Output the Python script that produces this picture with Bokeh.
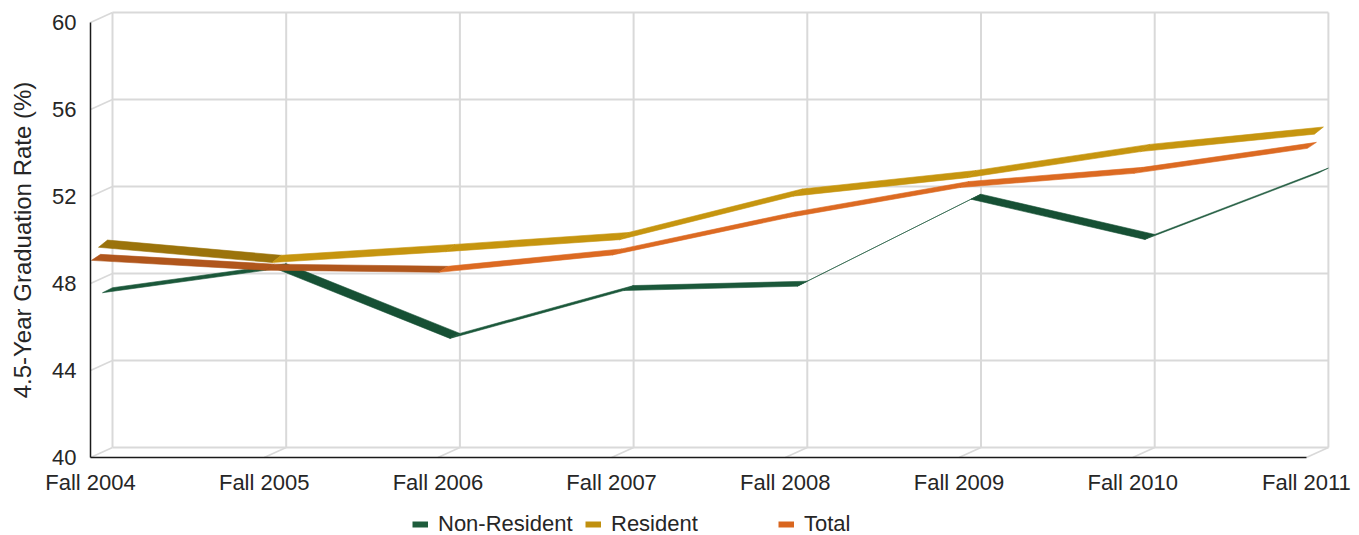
from bokeh.plotting import figure
from bokeh.models import Range1d, FixedTicker, Legend, LegendItem, ColumnDataSource
from bokeh.embed import file_html
from bokeh.resources import INLINE

# ---------------- data ----------------
categories = ["Fall 2004", "Fall 2005", "Fall 2006", "Fall 2007",
              "Fall 2008", "Fall 2009", "Fall 2010", "Fall 2011"]
non_resident = [47.3, 48.4, 45.2, 47.4, 47.6, 51.6, 49.75, 52.8]
resident = [49.5, 48.8, 49.3, 49.85, 51.85, 52.7, 53.9, 54.7]
total = [49.05, 48.6, 48.5, 49.3, 51.0, 52.4, 53.05, 54.2]
y_ticks = [40, 44, 48, 52, 56, 60]
series_names = ["Non-Resident", "Resident", "Total"]

# ---------------- style / geometry ----------------
FONT = "Liberation Sans"
TEXT = "#262626"
GRID = "#d9d9d9"
W, H = 1359, 535
PXX = 173.7          # pixels per category step
PXY = 21.75          # pixels per value unit
LEFT, BOTTOM = 90, 457   # pixel position of the front corner (x=0, y=40)
WALL_DX, WALL_DY = 22 / PXX, 10 / PXY   # depth of the back wall
# series ribbon depth: (front dx px, front dy px, back dx px, back dy px)
depth = {
    "Non-Resident": (12, 6.0, 22, 11.0),
    "Resident": (8, 3.6, 17, 10.8),
    "Total": (1, 0.3, 10, 6.3),
}
# (legend colour, colour when falling, colour when rising)
colours = {
    "Non-Resident": ("#1e5c3c", "#165034", "#1b583a"),
    "Resident": ("#c0900f", "#9b730b", "#c6950f"),
    "Total": ("#d9661f", "#b0561c", "#dc6a22"),
}
values = {"Non-Resident": non_resident, "Resident": resident, "Total": total}

n = len(categories)
p = figure(width=W, height=H, output_backend="svg", toolbar_location=None, title=None,
           x_range=Range1d(-LEFT / PXX, (W - LEFT) / PXX),
           y_range=Range1d(40 - (H - BOTTOM) / PXY, 40 + BOTTOM / PXY),
           min_border_left=0, min_border_right=0, min_border_top=0,
           min_border_bottom=0)
p.outline_line_color = None
p.grid.visible = False
p.background_fill_color = "white"
p.border_fill_color = "white"

# ---------------- walls ----------------
lo, hi = y_ticks[0], y_ticks[-1]
p.segment(x0=[WALL_DX] * len(y_ticks), y0=[v + WALL_DY for v in y_ticks],
          x1=[n - 1 + WALL_DX] * len(y_ticks), y1=[v + WALL_DY for v in y_ticks],
          line_color=GRID, line_width=2)
p.segment(x0=[i + WALL_DX for i in range(n)], y0=[lo + WALL_DY] * n,
          x1=[i + WALL_DX for i in range(n)], y1=[hi + WALL_DY] * n,
          line_color=GRID, line_width=2)
p.segment(x0=[0] * len(y_ticks), y0=y_ticks,
          x1=[WALL_DX] * len(y_ticks), y1=[v + WALL_DY for v in y_ticks],
          line_color=GRID, line_width=1.6)
p.segment(x0=list(range(1, n)), y0=[lo] * (n - 1),
          x1=[i + WALL_DX for i in range(1, n)], y1=[lo + WALL_DY] * (n - 1),
          line_color=GRID, line_width=1.6)

# ---------------- ribbons ----------------
legend_renderers = {}
for name in series_names:
    lc, c_down, c_up = colours[name]
    fx, fy, bx, by = depth[name]
    fx, bx = fx / PXX, bx / PXX
    fy, by = fy / PXY, by / PXY
    vals = values[name]
    xs, ys, cols = [], [], []
    for i in range(n - 1):
        v0, v1 = vals[i], vals[i + 1]
        xs.append([i + fx, i + 1 + fx, i + 1 + bx, i + bx])
        ys.append([v0 + fy, v1 + fy, v1 + by, v0 + by])
        cols.append(c_down if v1 < v0 else c_up)
    src = ColumnDataSource(dict(xs=xs, ys=ys, c=cols))
    p.patches("xs", "ys", source=src, fill_color="c", line_color="c", line_width=0.6)
    # legend swatch renderer (its points lie outside the visible ranges)
    legend_renderers[name] = p.line(x=[-50, -49], y=[0, 0], line_color=lc, line_width=6)

# ---------------- axes ----------------
p.yaxis.fixed_location = 0
p.yaxis.bounds = (lo, hi)
p.yaxis.ticker = FixedTicker(ticks=y_ticks)
p.yaxis.minor_tick_line_color = None
p.yaxis.major_tick_line_color = None
p.yaxis.major_tick_out = 0
p.yaxis.major_label_standoff = 14
p.yaxis.axis_line_color = "#1a1a1a"
p.yaxis.axis_line_width = 1.5
p.yaxis.axis_label = "4.5-Year Graduation Rate (%)"
p.yaxis.axis_label_standoff = 13
p.yaxis.axis_label_text_font = FONT
p.yaxis.axis_label_text_font_size = "24px"
p.yaxis.axis_label_text_font_style = "normal"
p.yaxis.axis_label_text_color = TEXT
p.yaxis.major_label_text_font = FONT
p.yaxis.major_label_text_font_size = "22px"
p.yaxis.major_label_text_color = TEXT

p.xaxis.fixed_location = lo
p.xaxis.bounds = (0, n - 1)
p.xaxis.ticker = FixedTicker(ticks=list(range(n)))
p.xaxis.major_label_overrides = {i: c for i, c in enumerate(categories)}
p.xaxis.minor_tick_line_color = None
p.xaxis.major_tick_line_color = None
p.xaxis.major_tick_out = 0
p.xaxis.major_label_standoff = 12
p.xaxis.axis_line_color = "#1a1a1a"
p.xaxis.axis_line_width = 1.5
p.xaxis.major_label_text_font = FONT
p.xaxis.major_label_text_font_size = "22px"
p.xaxis.major_label_text_color = TEXT

# ---------------- legend ----------------
legend_x = {"Non-Resident": 412, "Resident": 585, "Total": 778}
for name in series_names:
    leg = Legend(items=[LegendItem(label=name, renderers=[legend_renderers[name]])],
                 location=(legend_x[name], -2), orientation="horizontal",
                 label_text_font=FONT, label_text_font_size="22px",
                 label_text_color=TEXT, glyph_width=16, glyph_height=20,
                 label_standoff=10, padding=0, margin=0, spacing=0,
                 border_line_color=None, background_fill_alpha=0)
    p.add_layout(leg, "center")

open("out.html", "w").write(file_html(p, INLINE))
